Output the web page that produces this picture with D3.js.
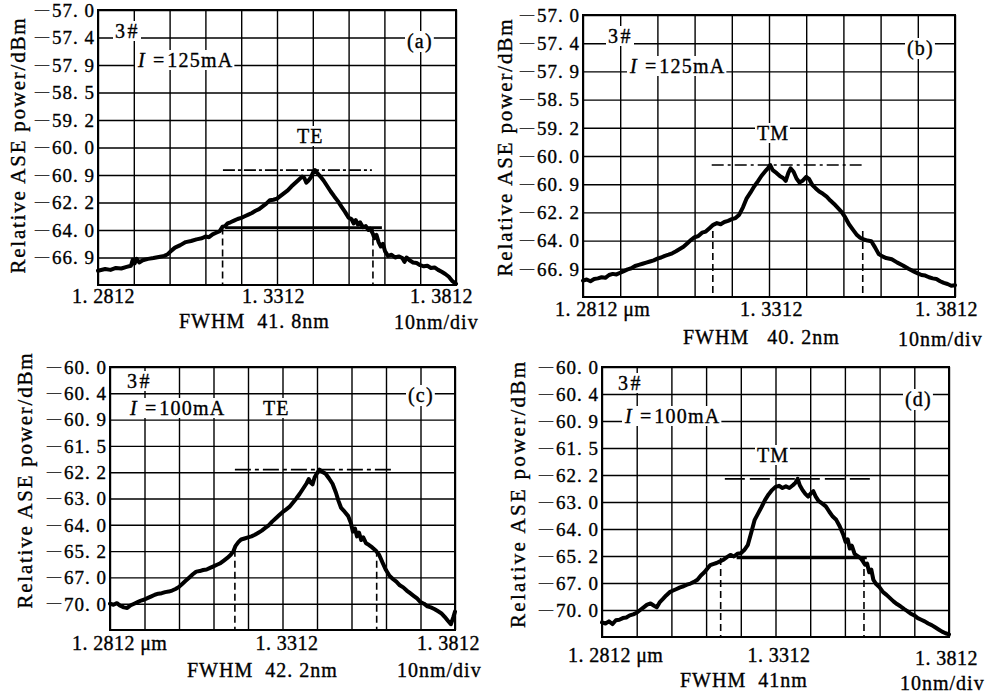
<!DOCTYPE html>
<html>
<head>
<meta charset="utf-8">
<script src="https://cdn.jsdelivr.net/npm/d3@7"></script>
<style>
body { margin: 0; background: #fff; }
svg { display: block; font-family: "Liberation Serif", "Times New Roman", serif; }
text { white-space: pre; fill: #000; stroke: #000; stroke-width: 0.35px; }
</style>
</head>
<body>
<svg id="chart" width="985" height="695"></svg>
<script>
// wavelength in nm (1.2812 um .. 1.3812 um, 10 nm/div)
var gridWave = [1281.2, 1291.2, 1301.2, 1311.2, 1321.2, 1331.2, 1341.2, 1351.2, 1361.2, 1371.2, 1381.2];
var xLabelWave = [1281.2, 1331.2, 1381.2];

// the y axis is linear in power (nW) but labelled in dBm
var tickPowerAB = [2.0, 1.8, 1.6, 1.4, 1.2, 1.0, 0.8, 0.6, 0.4, 0.2];
var tickLabelAB = ['-57.0', '-57.4', '-57.9', '-58.5', '-59.2', '-60.0', '-60.9', '-62.2', '-64.0', '-66.9'];
var tickPowerCD = [1.0, 0.9, 0.8, 0.7, 0.6, 0.5, 0.4, 0.3, 0.2, 0.1];
var tickLabelCD = ['-60.0', '-60.4', '-60.9', '-61.5', '-62.2', '-63.0', '-64.0', '-65.2', '-67.0', '-70.0'];

// traces: [wavelength nm, power nW]
var curveA = [[1281.2,.104],[1283.2,.116],[1284.7,.110],[1286.2,.124],[1287.7,.120],[1289.2,.132],[1290.4,.140],[1290.9,.184],[1291.4,.156],[1292.0,.190],
  [1292.7,.164],[1293.7,.180],[1295.2,.190],[1296.7,.196],[1298.2,.204],[1299.7,.212],[1300.7,.224],[1301.7,.250],[1302.7,.272],[1304.2,.290],
  [1305.7,.312],[1307.2,.320],[1308.7,.332],[1310.2,.340],[1311.2,.352],[1312.2,.348],[1313.2,.368],[1314.2,.380],[1315.2,.392],[1316.0,.424],
  [1316.7,.428],[1317.4,.448],[1318.2,.456],[1319.2,.468],[1320.2,.480],[1321.2,.488],[1322.2,.500],[1323.2,.512],[1324.2,.524],[1325.2,.540],
  [1326.2,.552],[1327.2,.572],[1328.2,.592],[1329.2,.616],[1330.2,.620],[1331.2,.628],[1332.2,.648],[1333.2,.668],[1334.2,.688],[1335.2,.716],
  [1336.2,.740],[1337.2,.764],[1338.2,.788],[1338.8,.780],[1339.4,.744],[1340.0,.760],[1340.7,.784],[1341.4,.824],[1341.8,.836],[1342.4,.816],
  [1343.2,.792],[1344.2,.760],[1345.2,.720],[1346.2,.680],[1347.2,.644],[1348.2,.610],[1349.2,.570],[1350.2,.532],[1351.2,.490],[1352.0,.480],
  [1352.6,.448],[1353.2,.472],[1353.8,.440],[1354.4,.456],[1355.2,.420],[1356.0,.428],[1356.7,.400],[1357.2,.410],[1358.0,.372],[1358.4,.340],
  [1359.0,.364],[1359.6,.310],[1360.2,.280],[1360.8,.300],[1361.4,.244],[1362.2,.212],[1363.2,.220],[1364.2,.200],[1365.2,.208],[1366.2,.196],
  [1366.8,.168],[1367.4,.200],[1368.2,.180],[1369.2,.164],[1370.2,.160],[1371.2,.144],[1372.2,.136],[1373.2,.140],[1374.2,.124],[1375.2,.128],
  [1376.2,.110],[1377.2,.096],[1378.2,.080],[1379.2,.060],[1380.2,.028],[1381.2,.008]];

var curveB = [[1281.2,.116],[1282.2,.124],[1283.2,.112],[1284.2,.128],[1285.2,.132],[1286.2,.140],[1287.2,.136],[1288.2,.156],[1289.2,.164],[1290.2,.160],
  [1291.2,.172],[1292.2,.184],[1293.2,.196],[1294.2,.204],[1295.2,.220],[1296.2,.228],[1297.2,.236],[1298.2,.244],[1299.2,.252],[1300.2,.260],
  [1301.2,.272],[1302.2,.280],[1303.2,.292],[1304.2,.300],[1305.2,.310],[1306.2,.324],[1307.2,.340],[1308.2,.356],[1309.2,.380],[1310.2,.404],
  [1311.2,.424],[1312.2,.432],[1313.2,.456],[1314.2,.464],[1315.2,.488],[1316.2,.512],[1317.2,.524],[1318.2,.516],[1319.2,.532],[1320.2,.540],
  [1321.2,.552],[1322.2,.560],[1323.2,.584],[1324.2,.636],[1325.2,.700],[1326.2,.740],[1327.2,.784],[1328.2,.820],[1329.2,.860],[1330.2,.892],
  [1330.9,.912],[1331.5,.936],[1332.2,.900],[1333.2,.880],[1334.2,.856],[1335.0,.844],[1335.7,.824],[1336.4,.880],[1337.0,.912],[1337.8,.888],
  [1338.6,.840],[1339.4,.812],[1340.2,.824],[1341.2,.852],[1342.0,.836],[1342.8,.796],[1343.7,.772],[1344.7,.748],[1345.7,.732],[1346.7,.712],
  [1347.7,.684],[1348.7,.660],[1349.7,.632],[1350.7,.604],[1351.7,.564],[1352.7,.516],[1353.7,.480],[1354.7,.444],[1355.7,.420],[1356.7,.408],
  [1357.7,.400],[1358.7,.396],[1359.7,.352],[1360.7,.304],[1361.7,.288],[1362.7,.276],[1364.2,.268],[1365.7,.244],[1367.2,.224],[1368.7,.200],
  [1370.2,.180],[1371.2,.168],[1372.2,.156],[1373.2,.152],[1374.2,.140],[1375.2,.132],[1376.2,.128],[1377.2,.112],[1378.2,.100],[1379.2,.092],
  [1380.2,.080],[1381.2,.084]];

var curveC = [[1281.2,.100],[1282.2,.096],[1283.2,.102],[1284.2,.092],[1285.2,.086],[1286.2,.084],[1287.2,.094],[1288.2,.100],[1289.2,.106],[1290.2,.112],
  [1291.2,.116],[1292.2,.122],[1293.2,.128],[1294.2,.134],[1295.2,.138],[1296.2,.140],[1297.2,.144],[1298.2,.146],[1299.2,.150],[1300.2,.156],
  [1301.2,.164],[1302.2,.176],[1303.2,.188],[1304.2,.200],[1305.2,.212],[1306.2,.222],[1307.2,.224],[1308.2,.228],[1309.2,.230],[1310.2,.236],
  [1311.2,.242],[1312.2,.248],[1313.2,.254],[1314.2,.264],[1315.2,.274],[1316.2,.286],[1317.0,.300],[1317.6,.320],[1318.4,.334],[1319.2,.344],
  [1320.2,.348],[1321.2,.352],[1322.2,.356],[1323.2,.362],[1324.2,.370],[1325.2,.378],[1326.2,.388],[1327.2,.398],[1328.2,.412],[1329.2,.424],
  [1330.2,.436],[1331.2,.448],[1332.2,.458],[1333.2,.468],[1334.2,.484],[1335.2,.500],[1336.2,.518],[1337.2,.538],[1338.2,.558],[1338.8,.574],
  [1339.4,.560],[1339.9,.554],[1340.5,.580],[1341.2,.596],[1341.9,.610],[1342.7,.602],[1343.7,.594],[1344.7,.576],[1345.7,.556],[1346.7,.522],
  [1347.4,.492],[1348.2,.464],[1349.2,.450],[1350.2,.434],[1351.0,.408],[1351.6,.374],[1352.2,.386],[1352.8,.356],[1353.4,.370],[1354.0,.342],
  [1354.6,.352],[1355.4,.330],[1356.2,.324],[1357.2,.314],[1358.2,.302],[1359.2,.286],[1360.2,.256],[1361.2,.228],[1362.2,.206],[1363.2,.194],
  [1364.2,.184],[1365.2,.170],[1366.2,.162],[1367.2,.150],[1368.2,.140],[1369.2,.130],[1370.2,.120],[1371.2,.106],[1372.2,.100],[1373.2,.090],
  [1374.2,.086],[1375.2,.080],[1376.2,.072],[1377.2,.064],[1378.2,.050],[1379.2,.034],[1380.0,.022],[1380.7,.048],[1381.2,.070]];

var curveD = [[1281.2,.054],[1282.2,.050],[1283.2,.058],[1284.2,.048],[1285.2,.062],[1286.2,.064],[1287.2,.070],[1288.2,.072],[1289.2,.080],[1290.2,.084],
  [1291.2,.090],[1292.2,.100],[1293.2,.110],[1294.2,.120],[1295.2,.124],[1296.2,.116],[1297.0,.110],[1297.8,.128],[1298.7,.140],[1299.7,.154],
  [1300.7,.166],[1301.7,.172],[1302.7,.178],[1303.7,.184],[1304.7,.188],[1305.7,.194],[1306.7,.198],[1307.7,.204],[1308.7,.212],[1309.7,.228],
  [1310.7,.240],[1311.7,.256],[1312.4,.266],[1313.2,.270],[1314.2,.274],[1315.2,.280],[1316.2,.286],[1317.2,.296],[1318.2,.304],[1319.2,.298],
  [1320.2,.308],[1321.2,.310],[1322.2,.322],[1323.2,.340],[1324.2,.386],[1325.2,.434],[1326.2,.458],[1327.2,.482],[1328.2,.508],[1329.2,.528],
  [1330.2,.544],[1331.2,.556],[1332.2,.560],[1333.2,.552],[1334.2,.558],[1335.2,.552],[1336.2,.562],[1337.0,.572],[1337.6,.586],[1338.2,.562],
  [1339.0,.544],[1339.8,.530],[1340.6,.520],[1341.4,.532],[1342.1,.540],[1342.8,.520],[1343.6,.504],[1344.7,.494],[1345.7,.484],[1346.7,.464],
  [1347.7,.446],[1348.7,.434],[1349.7,.410],[1350.7,.380],[1351.4,.352],[1352.0,.362],[1352.6,.328],[1353.2,.338],[1354.0,.308],[1354.8,.300],
  [1355.7,.292],[1356.4,.280],[1357.0,.268],[1357.6,.272],[1358.2,.240],[1358.8,.250],[1359.4,.212],[1360.2,.196],[1361.2,.184],[1362.2,.166],
  [1363.2,.156],[1364.2,.144],[1365.2,.132],[1366.2,.122],[1367.2,.114],[1368.2,.104],[1369.2,.096],[1370.2,.086],[1371.2,.080],[1372.2,.070],
  [1373.2,.064],[1374.2,.058],[1375.2,.050],[1376.2,.044],[1377.2,.036],[1378.2,.028],[1379.2,.020],[1380.2,.014],[1381.2,.010]];

// FWHM edges, span of the peak reference line, span of the half-max line (nm)
var fwhmA = [1316.0, 1358.0], peakSpanA = [1316.1, 1357.7], halfSpanA = [1316.7, 1360.5];
var fwhmB = [1316.1, 1356.4], peakSpanB = [1315.8, 1356.1];
var fwhmC = [1317.4, 1358.5], peakSpanC = [1317.4, 1363.2];
var fwhmD = [1315.4, 1356.7], peakSpanD = [1316.6, 1358.9], halfSpanD = [1320.0, 1357.5];

var panels = [
  { tag: '(a)', mode: 'TE', current: '125mA', fwhmText: 'FWHM  41. 8nm', unit: '',
    curve: curveA, top: 2.0, tickP: tickPowerAB, tickL: tickLabelAB,
    fwhm: fwhmA, peakSpan: peakSpanA, halfSpan: halfSpanA, peakDash: '12,3,3,3',
    box: [98, 456, 10, 285], title: [25, 146, 255],
    xlab: { dx: [-26, -35, -46], y: [303, 303, 303] }, fw: [179, 328], div: [394, 329],
    ann: { n: [115, 38], i: [138, 67], tag: [407, 48], mode: [297, 143] } },
  { tag: '(b)', mode: 'TM', current: '125mA', fwhmText: 'FWHM   40. 2nm', unit: ' \u03bcm',
    curve: curveB, top: 2.0, tickP: tickPowerAB, tickL: tickLabelAB,
    fwhm: fwhmB, peakSpan: peakSpanB, halfSpan: null, peakDash: '12,4,3,4',
    box: [583, 955, 15, 297], title: [512, 148, 257],
    xlab: { dx: [-28, -29, -40], y: [316, 316, 316] }, fw: [683, 344], div: [898, 346],
    ann: { n: [608, 43], i: [630, 73], tag: [907, 55], mode: [757, 140] } },
  { tag: '(c)', mode: 'TE', current: '100mA', fwhmText: 'FWHM  42. 2nm', unit: ' \u03bcm',
    curve: curveC, top: 1.0, tickP: tickPowerCD, tickL: tickLabelCD,
    fwhm: fwhmC, peakSpan: peakSpanC, halfSpan: null, peakDash: '16,4,4,4',
    box: [110, 455, 367, 630], title: [32, 481, 255],
    xlab: { dx: [-38, -27, -38], y: [650, 650, 650] }, fw: [187, 677], div: [397, 677],
    ann: { n: [127, 388], i: [130, 415], tag: [408, 402], mode: [263, 415] } },
  { tag: '(d)', mode: 'TM', current: '100mA', fwhmText: 'FWHM  41nm', unit: ' \u03bcm',
    curve: curveD, top: 1.0, tickP: tickPowerCD, tickL: tickLabelCD,
    fwhm: fwhmD, peakSpan: peakSpanD, halfSpan: halfSpanD, peakDash: '20,5',
    box: [602, 949, 367, 637], title: [525, 495, 266],
    xlab: { dx: [-34, -28, -34], y: [662, 662, 665] }, fw: [680, 687], div: [900, 690],
    ann: { n: [618, 390], i: [625, 423], tag: [905, 406], mode: [757, 462] } }
];

var svg = d3.select('#chart');

function umFormat(v) { return (v / 1000).toFixed(4).replace('.', '. '); }

// text with a white box behind it, so grid lines are cut around it
function boxedText(g, pos, parts, size, spacing) {
  var t = g.append('text').attr('x', pos[0]).attr('y', pos[1])
    .attr('font-size', size).attr('letter-spacing', spacing || 0);
  parts.forEach(function (p) {
    var s = t.append('tspan').text(p.t);
    if (p.italic) s.attr('font-style', 'italic');
    if (p.dx) s.attr('dx', p.dx);
  });
  var b = t.node().getBBox();
  g.insert('rect', function () { return t.node(); })
    .attr('x', b.x - 2).attr('y', b.y + 1)
    .attr('width', b.width + 3).attr('height', b.height - 2)
    .attr('fill', '#fff');
}

function drawPanel(p) {
  var g = svg.append('g');
  var x0 = p.box[0], x1 = p.box[1], y0 = p.box[2], y1 = p.box[3];
  var x = d3.scaleLinear().domain([1281.2, 1381.2]).range([x0, x1]);
  var y = d3.scaleLinear().domain([0, p.top]).range([y1, y0]);

  // grid
  g.append('g').attr('transform', 'translate(0,' + y1 + ')')
    .call(d3.axisBottom(x).tickValues(gridWave).tickSize(-(y1 - y0)).tickFormat(''))
    .call(function (s) { s.select('.domain').remove(); })
    .selectAll('line').attr('stroke-width', 1.4);
  g.append('g').attr('transform', 'translate(' + x0 + ',0)')
    .call(d3.axisLeft(y).tickValues(p.tickP).tickSize(-(x1 - x0)).tickFormat(''))
    .call(function (s) { s.select('.domain').remove(); })
    .selectAll('line').attr('stroke-width', 1.4);
  g.append('rect').attr('x', x0).attr('y', y0).attr('width', x1 - x0).attr('height', y1 - y0)
    .attr('fill', 'none').attr('stroke', '#000').attr('stroke-width', 2);

  // dBm labels: long dash, then the number
  var yl = g.append('g').attr('transform', 'translate(' + x0 + ',0)')
    .call(d3.axisLeft(y).tickValues(p.tickP).tickSize(0).tickPadding(3)
      .tickFormat(function (d, i) { return p.tickL[i]; }));
  yl.select('.domain').remove();
  yl.attr('font-family', null).attr('font-size', 19).attr('letter-spacing', 1);
  yl.selectAll('.tick text').each(function () {
    var t = d3.select(this), s = t.text();
    t.attr('dy', null).text(null);
    t.append('tspan').attr('font-size', 14).attr('dy', 3.2).text('\u2014');
    t.append('tspan').attr('dx', 2).attr('dy', 3.1).text(s.slice(1).replace('.', '. '));
  });

  // wavelength labels
  xLabelWave.forEach(function (v, i) {
    g.append('text').attr('x', x(v) + p.xlab.dx[i]).attr('y', p.xlab.y[i])
      .attr('font-size', 20).attr('letter-spacing', 0.4)
      .text(umFormat(v) + (i === 0 ? p.unit : ''));
  });
  g.append('text').attr('x', p.fw[0]).attr('y', p.fw[1]).attr('font-size', 20)
    .attr('letter-spacing', 1).text(p.fwhmText);
  g.append('text').attr('x', p.div[0]).attr('y', p.div[1]).attr('font-size', 20)
    .attr('letter-spacing', 1).text('10nm/div');

  // axis title
  g.append('text').attr('transform', 'translate(' + p.title[0] + ',' + p.title[1] + ') rotate(-90)')
    .attr('text-anchor', 'middle').attr('font-size', 21)
    .attr('textLength', p.title[2]).attr('lengthAdjust', 'spacing')
    .text('Relative ASE power/dBm');

  // annotations
  boxedText(g, p.ann.n, [{ t: '3#' }], 20, 2.5);
  boxedText(g, p.ann.i, [{ t: 'I', italic: true }, { t: '=', dx: 7 }, { t: p.current, dx: 2 }], 20, 1.2);
  boxedText(g, p.ann.tag, [{ t: p.tag }], 20, 1.2);
  boxedText(g, p.ann.mode, [{ t: p.mode }], 20, 1);

  var peak = d3.max(p.curve, function (d) { return d[1]; });
  var half = peak / 2;

  // peak reference line
  g.append('line').attr('x1', x(p.peakSpan[0])).attr('x2', x(p.peakSpan[1]))
    .attr('y1', y(peak)).attr('y2', y(peak))
    .attr('stroke', '#000').attr('stroke-width', 1.7).attr('stroke-dasharray', p.peakDash);
  // half maximum line
  if (p.halfSpan) {
    g.append('line').attr('x1', x(p.halfSpan[0])).attr('x2', x(p.halfSpan[1]))
      .attr('y1', y(half)).attr('y2', y(half))
      .attr('stroke', '#000').attr('stroke-width', 2.8);
  }
  // FWHM edges
  p.fwhm.forEach(function (w) {
    g.append('line').attr('x1', x(w)).attr('x2', x(w))
      .attr('y1', y(half)).attr('y2', y1)
      .attr('stroke', '#000').attr('stroke-width', 1.6).attr('stroke-dasharray', '7,4');
  });

  // spectrum trace
  var line = d3.line().x(function (d) { return x(d[0]); }).y(function (d) { return y(d[1]); });
  g.append('path').datum(p.curve).attr('d', line)
    .attr('fill', 'none').attr('stroke', '#000').attr('stroke-width', 4)
    .attr('stroke-linejoin', 'round').attr('stroke-linecap', 'round');
}

panels.forEach(drawPanel);
</script>
</body>
</html>
